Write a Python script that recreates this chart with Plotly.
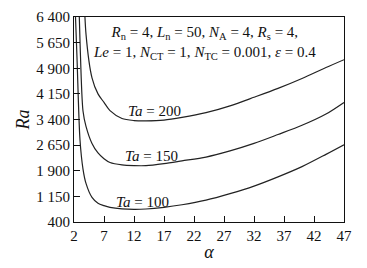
import plotly.graph_objects as go

alpha = [2, 2.5, 3, 3.5, 4, 5, 6, 7, 8, 10, 12, 14, 17, 20, 24, 28, 32, 36, 40, 44, 47]
ra_ta100 = [7600, 5200, 2800, 1950, 1530, 1120, 950, 880, 830, 785, 770, 780, 830, 905, 1040, 1230, 1450, 1720, 2020, 2380, 2660]
ra_ta150 = [14000, 9000, 5700, 3650, 3200, 2700, 2420, 2250, 2140, 2070, 2050, 2050, 2110, 2190, 2300, 2480, 2700, 2960, 3230, 3560, 3900]
ra_ta200 = [22000, 16000, 12000, 8000, 5900, 4620, 4150, 3900, 3660, 3430, 3370, 3360, 3380, 3460, 3600, 3800, 4050, 4310, 4600, 4920, 5150]

series = [("Ta = 100", ra_ta100), ("Ta = 150", ra_ta150), ("Ta = 200", ra_ta200)]

xticks = [2, 7, 12, 17, 22, 27, 32, 37, 42, 47]
yticks = [400, 1150, 1900, 2650, 3400, 4150, 4900, 5650, 6400]
yticktext = ["400", "1 150", "1 900", "2 650", "3 400", "4 150", "4 900", "5 650", "6 400"]

# label positions (data coords) for curve labels
labels = [("<i>Ta</i> = 100", 13.4, 1000), ("<i>Ta</i> = 150", 14.9, 2336), ("<i>Ta</i> = 200", 15.4, 3635)]

FONT = "'Liberation Serif', 'Times New Roman', 'DejaVu Serif', serif"

fig = go.Figure()
for name, ys in series:
    fig.add_trace(go.Scatter(x=alpha, y=ys, mode="lines", name=name,
                             line=dict(color="#222222", width=1.2, shape="spline", smoothing=0.8),
                             showlegend=False))

for txt, x, y in labels:
    fig.add_annotation(x=x, y=y, text=txt, showarrow=False, xref="x", yref="y",
                       font=dict(family=FONT, size=15, color="#111111"))

fig.add_annotation(x=0.484, y=1.0, xref="paper", yref="paper", yanchor="top",
                   yshift=-5, showarrow=False, align="center",
                   text="<i>R</i><sub>n</sub> = 4, <i>L</i><sub>n</sub> = 50, <i>N</i><sub>A</sub> = 4, <i>R</i><sub>s</sub> = 4,<br>"
                        "<i>Le</i> = 1, <i>N</i><sub>CT</sub> = 1, <i>N</i><sub>TC</sub> = 0.001, <i>ε</i> = 0.4",
                   font=dict(family=FONT, size=15, color="#111111"))

fig.update_layout(
    width=367, height=268,
    margin=dict(l=74, r=23, t=9, b=42),
    paper_bgcolor="white", plot_bgcolor="white",
    font=dict(family=FONT, size=15, color="#111111"),
)
fig.update_xaxes(range=[2, 47], tickvals=xticks, ticks="inside", ticklen=6, tickcolor="#111111",
                 showline=True, linecolor="#111111", linewidth=1, mirror=True, showgrid=False,
                 zeroline=False, title=dict(text="<i>α</i>", standoff=2))
fig.update_yaxes(range=[400, 6400], tickvals=yticks, ticktext=yticktext, ticks="inside", ticklen=6,
                 tickcolor="#111111", showline=True, linecolor="#111111", linewidth=1, mirror=True,
                 showgrid=False, zeroline=False, title=dict(text="<i>Ra</i>", standoff=1))

fig.write_html("out.html")
